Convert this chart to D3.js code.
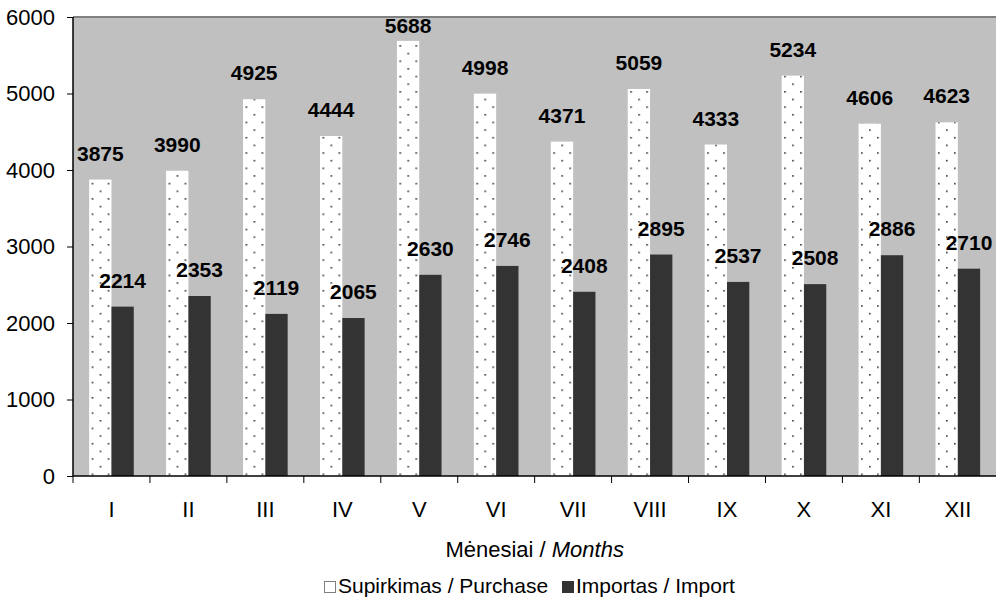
<!DOCTYPE html>
<html>
<head>
<meta charset="utf-8">
<script src="https://cdn.jsdelivr.net/npm/d3@7"></script>
<style>
  html, body { margin: 0; padding: 0; background: #ffffff; }
  svg { display: block; font-family: Arial, "Liberation Sans", sans-serif; }
</style>
</head>
<body>
<svg id="chart" width="996" height="600"></svg>
<script>
const months = ["I","II","III","IV","V","VI","VII","VIII","IX","X","XI","XII"];
const purchase = [3875, 3990, 4925, 4444, 5688, 4998, 4371, 5059, 4333, 5234, 4606, 4623];
const imports  = [2214, 2353, 2119, 2065, 2630, 2746, 2408, 2895, 2537, 2508, 2886, 2710];
const yTicks = [0, 1000, 2000, 3000, 4000, 5000, 6000];
const seriesNames = ["Supirkimas / Purchase", "Importas / Import"];
const axisTitleLt = "Mėnesiai / ";
const axisTitleEn = "Months";

(function () {
const W = 996, H = 600;
const pL = 73, pR = 996.3, pT = 17, pB = 476;

const svg = d3.select("#chart");
const x = d3.scaleBand().domain(months).range([pL, pR]).padding(0);
const y = d3.scaleLinear().domain([0, 6000]).range([pB, pT]);
const bw = x.bandwidth();
const barW = bw * 0.29;

// plot background
svg.append("rect").attr("x", pL).attr("y", pT)
  .attr("width", pR - pL).attr("height", pB - pT)
  .attr("fill", "#c0c0c0");
// top border
svg.append("line").attr("x1", pL).attr("x2", W).attr("y1", pT).attr("y2", pT)
  .attr("stroke", "#808080").attr("stroke-width", 2);

// dotted patterns (one per bar, anchored to bar)
const defs = svg.append("defs");
months.forEach((m, i) => {
  const bx = x(m) + bw / 2 - barW;
  const p = defs.append("pattern").attr("id", "dots" + i)
    .attr("patternUnits", "userSpaceOnUse")
    .attr("x", bx + 2.5).attr("y", pB - 2.5)
    .attr("width", 16).attr("height", 15.3);
  p.append("rect").attr("width", 16).attr("height", 15.3).attr("fill", "#ffffff");
  p.append("rect").attr("x", 0).attr("y", 0).attr("width", 1.6).attr("height", 1.6).attr("fill", "#333");
  p.append("rect").attr("x", 8).attr("y", 7.65).attr("width", 1.6).attr("height", 1.6).attr("fill", "#333");
});

// purchase bars
svg.append("g").selectAll("rect").data(purchase).join("rect")
  .attr("x", (d, i) => x(months[i]) + bw / 2 - barW)
  .attr("y", d => y(d))
  .attr("width", barW)
  .attr("height", d => pB - y(d))
  .attr("fill", (d, i) => "url(#dots" + i + ")");

// import bars
svg.append("g").selectAll("rect").data(imports).join("rect")
  .attr("x", (d, i) => x(months[i]) + bw / 2)
  .attr("y", d => y(d))
  .attr("width", barW)
  .attr("height", d => pB - y(d))
  .attr("fill", "#333333");

// value labels
const lblFont = 21;
function lblY(v) {
  const b = y(v) - 19;
  const minBase = pT + 1 + lblFont * 0.716;
  return Math.max(b, minBase);
}
svg.append("g").selectAll("text").data(purchase).join("text")
  .attr("x", (d, i) => x(months[i]) + bw / 2 - barW / 2)
  .attr("y", d => lblY(d))
  .attr("text-anchor", "middle")
  .attr("font-weight", "bold").attr("font-size", lblFont)
  .attr("fill", "#000").text(d => d);
svg.append("g").selectAll("text").data(imports).join("text")
  .attr("x", (d, i) => x(months[i]) + bw / 2 + barW / 2)
  .attr("y", d => lblY(d))
  .attr("text-anchor", "middle")
  .attr("font-weight", "bold").attr("font-size", lblFont)
  .attr("fill", "#000").text(d => d);

// y axis
const yAxis = svg.append("g").attr("transform", `translate(${pL},0)`)
  .call(d3.axisLeft(y).tickValues(yTicks).tickSize(6).tickPadding(12).tickFormat(d3.format("d")));
yAxis.select(".domain").attr("stroke", "#000").attr("stroke-width", 1.5)
  .attr("d", `M0,${pT}V${pB}`);
yAxis.selectAll(".tick line").attr("stroke", "#000");
yAxis.selectAll("text").attr("font-size", 22).attr("font-family", "Arial, 'Liberation Sans', sans-serif").attr("fill", "#000");

// x axis
const xAxis = svg.append("g").attr("transform", `translate(0,${pB})`)
  .call(d3.axisBottom(x).tickSize(0).tickPadding(0));
xAxis.select(".domain").attr("stroke", "#000").attr("stroke-width", 1.5)
  .attr("d", `M${pL},0H${W}`);
xAxis.selectAll(".tick text").attr("font-size", 22)
  .attr("font-family", "Arial, 'Liberation Sans', sans-serif")
  .attr("fill", "#000").attr("dy", null).attr("y", 40.7);
// boundary ticks
svg.append("g").selectAll("line").data(months).join("line")
  .attr("x1", d => x(d)).attr("x2", d => x(d))
  .attr("y1", pB).attr("y2", pB + 7)
  .attr("stroke", "#000").attr("stroke-width", 1);

// axis title
const t = svg.append("text").attr("x", (pL + pR) / 2).attr("y", 556.7)
  .attr("text-anchor", "middle").attr("font-size", 22).attr("fill", "#000");
t.append("tspan").text(axisTitleLt);
t.append("tspan").attr("font-style", "italic").text(axisTitleEn);

// legend
const lg = svg.append("g");
const legendItems = [
  { name: seriesNames[0], fill: "#ffffff", stroke: "#808080", x: 324 },
  { name: seriesNames[1], fill: "#333333", stroke: "#333333", x: 562 }
];
legendItems.forEach(it => {
  lg.append("rect").attr("x", it.x + 0.5).attr("y", 581.5).attr("width", 11).attr("height", 11)
    .attr("fill", it.fill).attr("stroke", it.stroke).attr("stroke-width", 1);
  lg.append("text").attr("x", it.x + 14).attr("y", 593)
    .attr("font-size", 21).attr("fill", "#000").text(it.name);
});
})();
</script>
</body>
</html>
